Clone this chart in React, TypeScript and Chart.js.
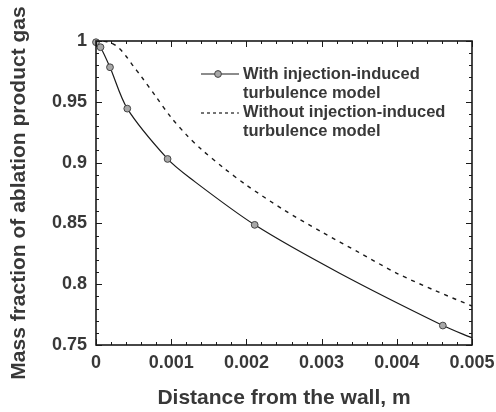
import React, { useEffect, useRef } from 'react';
import { Chart, registerables } from 'chart.js';

Chart.register(...registerables);

// ---- data ----
const withX = [0, 0.00006, 0.000186, 0.000416, 0.000952, 0.00125, 0.00211, 0.00324, 0.004612, 0.005];
const withY = [0.999, 0.9949, 0.9784, 0.9444, 0.903, 0.8873, 0.8488, 0.809, 0.766, 0.7558];
const withMarker = [true, true, true, true, true, false, true, false, true, false];

const withoutX = [0.0001, 0.0002, 0.0003, 0.0004, 0.0005, 0.0006, 0.0008, 0.001, 0.0012, 0.0014, 0.0017, 0.002, 0.0025, 0.003, 0.0035, 0.004, 0.0045, 0.005];
const withoutY = [1.0, 0.9985, 0.9945, 0.9875, 0.979, 0.971, 0.954, 0.937, 0.923, 0.911, 0.8955, 0.8815, 0.861, 0.843, 0.826, 0.809, 0.795, 0.782];

const xTicks = [0, 0.001, 0.002, 0.003, 0.004, 0.005];
const xTickLabels = ['0', '0.001', '0.002', '0.003', '0.004', '0.005'];
const yTicks = [0.75, 0.8, 0.85, 0.9, 0.95, 1];
const yTickLabels = ['0.75', '0.8', '0.85', '0.9', '0.95', '1'];
const xMinorStep = 0.0002;
const yMinorStep = 0.01;

const seriesNames = ['With injection-induced turbulence model', 'Without injection-induced turbulence model'];
const legendLines = [
  ['With injection-induced', 'turbulence model'],
  ['Without injection-induced', 'turbulence model'],
];
const xTitle = 'Distance from the wall, m';
const yTitle = 'Mass fraction of ablation product gas';

const FONT = "'Liberation Sans', Arial, Helvetica, sans-serif";
const TEXT = '#383838';
const INK = '#1a1a1a';

const framePlugin = {
  id: 'frameTicks',
  afterDatasetsDraw(chart: any) {
    const { ctx, chartArea, scales } = chart;
    const { left, right, top, bottom } = chartArea;
    const x = scales.x;
    const y = scales.y;
    ctx.save();
    ctx.strokeStyle = INK;
    ctx.lineWidth = 1;
    ctx.beginPath();
    const nx = Math.round((x.max - x.min) / xMinorStep);
    for (let i = 0; i <= nx; i++) {
      const v = x.min + i * xMinorStep;
      const px = Math.round(x.getPixelForValue(v)) + 0.5;
      const len = i % 5 === 0 ? 6 : 3;
      ctx.moveTo(px, bottom);
      ctx.lineTo(px, bottom - len);
      ctx.moveTo(px, top);
      ctx.lineTo(px, top + len);
    }
    const ny = Math.round((y.max - y.min) / yMinorStep);
    for (let i = 0; i <= ny; i++) {
      const v = y.min + i * yMinorStep;
      const py = Math.round(y.getPixelForValue(v)) + 0.5;
      const len = i % 5 === 0 ? 6 : 3;
      ctx.moveTo(left, py);
      ctx.lineTo(left + len, py);
      ctx.moveTo(right, py);
      ctx.lineTo(right - len, py);
    }
    ctx.stroke();
    ctx.lineWidth = 1.6;
    ctx.strokeRect(left, top, right - left, bottom - top);
    ctx.restore();
  },
  afterDraw(chart: any) {
    const { ctx } = chart;
    ctx.save();
    const x0 = 201;
    const x1 = 239;
    const textX = 243;
    const rowY = [[79, 97.5], [117, 135.5]];
    ctx.font = `bold 16.5px ${FONT}`;
    ctx.fillStyle = TEXT;
    ctx.textBaseline = 'alphabetic';
    ctx.textAlign = 'left';
    legendLines.forEach((lines, i) => {
      lines.forEach((t, j) => ctx.fillText(t, textX, rowY[i][j]));
    });
    // solid with marker
    ctx.strokeStyle = INK;
    ctx.lineWidth = 1.2;
    ctx.setLineDash([]);
    ctx.beginPath();
    ctx.moveTo(x0, 74);
    ctx.lineTo(x1, 74);
    ctx.stroke();
    ctx.beginPath();
    ctx.arc(218, 74, 3.4, 0, Math.PI * 2);
    ctx.fillStyle = '#a8a8a8';
    ctx.fill();
    ctx.strokeStyle = '#444';
    ctx.lineWidth = 1;
    ctx.stroke();
    // dashed
    ctx.strokeStyle = INK;
    ctx.lineWidth = 1.2;
    ctx.setLineDash([3, 3]);
    ctx.beginPath();
    ctx.moveTo(x0, 113);
    ctx.lineTo(x1, 113);
    ctx.stroke();
    ctx.restore();
  },
};

export default function App() {
  const ref = useRef<HTMLCanvasElement | null>(null);
  useEffect(() => {
    if (!ref.current) return;
    const chart = new Chart(ref.current, {
      type: 'line',
      data: {
        datasets: [
          {
            label: seriesNames[0],
            data: withX.map((v, i) => ({ x: v, y: withY[i] })),
            borderColor: INK,
            borderWidth: 1.2,
            tension: 0.3,
            pointRadius: withMarker.map((m) => (m ? 3.4 : 0)),
            pointBackgroundColor: '#a8a8a8',
            pointBorderColor: '#444',
            pointBorderWidth: 1,
            clip: 6,
            order: 0,
          } as any,
          {
            label: seriesNames[1],
            data: withoutX.map((v, i) => ({ x: v, y: withoutY[i] })),
            borderColor: INK,
            borderWidth: 1.4,
            borderDash: [4, 5],
            tension: 0.3,
            pointRadius: 0,
            order: 1,
          } as any,
        ],
      },
      options: {
        responsive: false,
        animation: false,
        events: [],
        layout: { padding: { top: 41, right: 24, left: 0, bottom: 0 } },
        plugins: {
          legend: { display: false },
          tooltip: { enabled: false },
        },
        scales: {
          x: {
            type: 'linear',
            min: 0,
            max: 0.005,
            afterBuildTicks: (s: any) => {
              s.ticks = xTicks.map((v) => ({ value: v }));
            },
            afterFit: (s: any) => {
              s.height = 67;
              s.paddingLeft = 0;
              s.paddingRight = 0;
            },
            grid: { display: false, drawTicks: false },
            border: { display: false },
            ticks: {
              padding: 7,
              color: TEXT,
              font: { family: FONT, size: 18, weight: 'bold' },
              maxRotation: 0,
              autoSkip: false,
              callback: (v: any) => {
                const i = xTicks.findIndex((t) => Math.abs(t - v) < 1e-9);
                return i >= 0 ? xTickLabels[i] : '';
              },
            },
            title: {
              display: true,
              text: xTitle,
              color: TEXT,
              font: { family: FONT, size: 21, weight: 'bold' },
              padding: { top: 1.5, bottom: 1.5 },
            },
          },
          y: {
            type: 'linear',
            min: 0.75,
            max: 1,
            afterBuildTicks: (s: any) => {
              s.ticks = yTicks.map((v) => ({ value: v }));
            },
            afterFit: (s: any) => {
              s.width = 96;
              s.paddingTop = 0;
              s.paddingBottom = 0;
            },
            grid: { display: false, drawTicks: false },
            border: { display: false },
            ticks: {
              padding: 9,
              color: TEXT,
              font: { family: FONT, size: 18, weight: 'bold' },
              autoSkip: false,
              callback: (v: any) => {
                const i = yTicks.findIndex((t) => Math.abs(t - v) < 1e-9);
                return i >= 0 ? yTickLabels[i] : '';
              },
            },
            title: {
              display: true,
              text: yTitle,
              color: TEXT,
              font: { family: FONT, size: 21, weight: 'bold' },
              padding: { top: 7, bottom: 7 },
            },
          },
        },
      },
      plugins: [framePlugin],
    });
    return () => chart.destroy();
  }, []);
  return (
    <div style={{ position: 'fixed', left: 0, top: 0, width: 496, height: 412, background: '#fff' }}>
      <canvas ref={ref} width={496} height={412} style={{ display: 'block' }} />
    </div>
  );
}
